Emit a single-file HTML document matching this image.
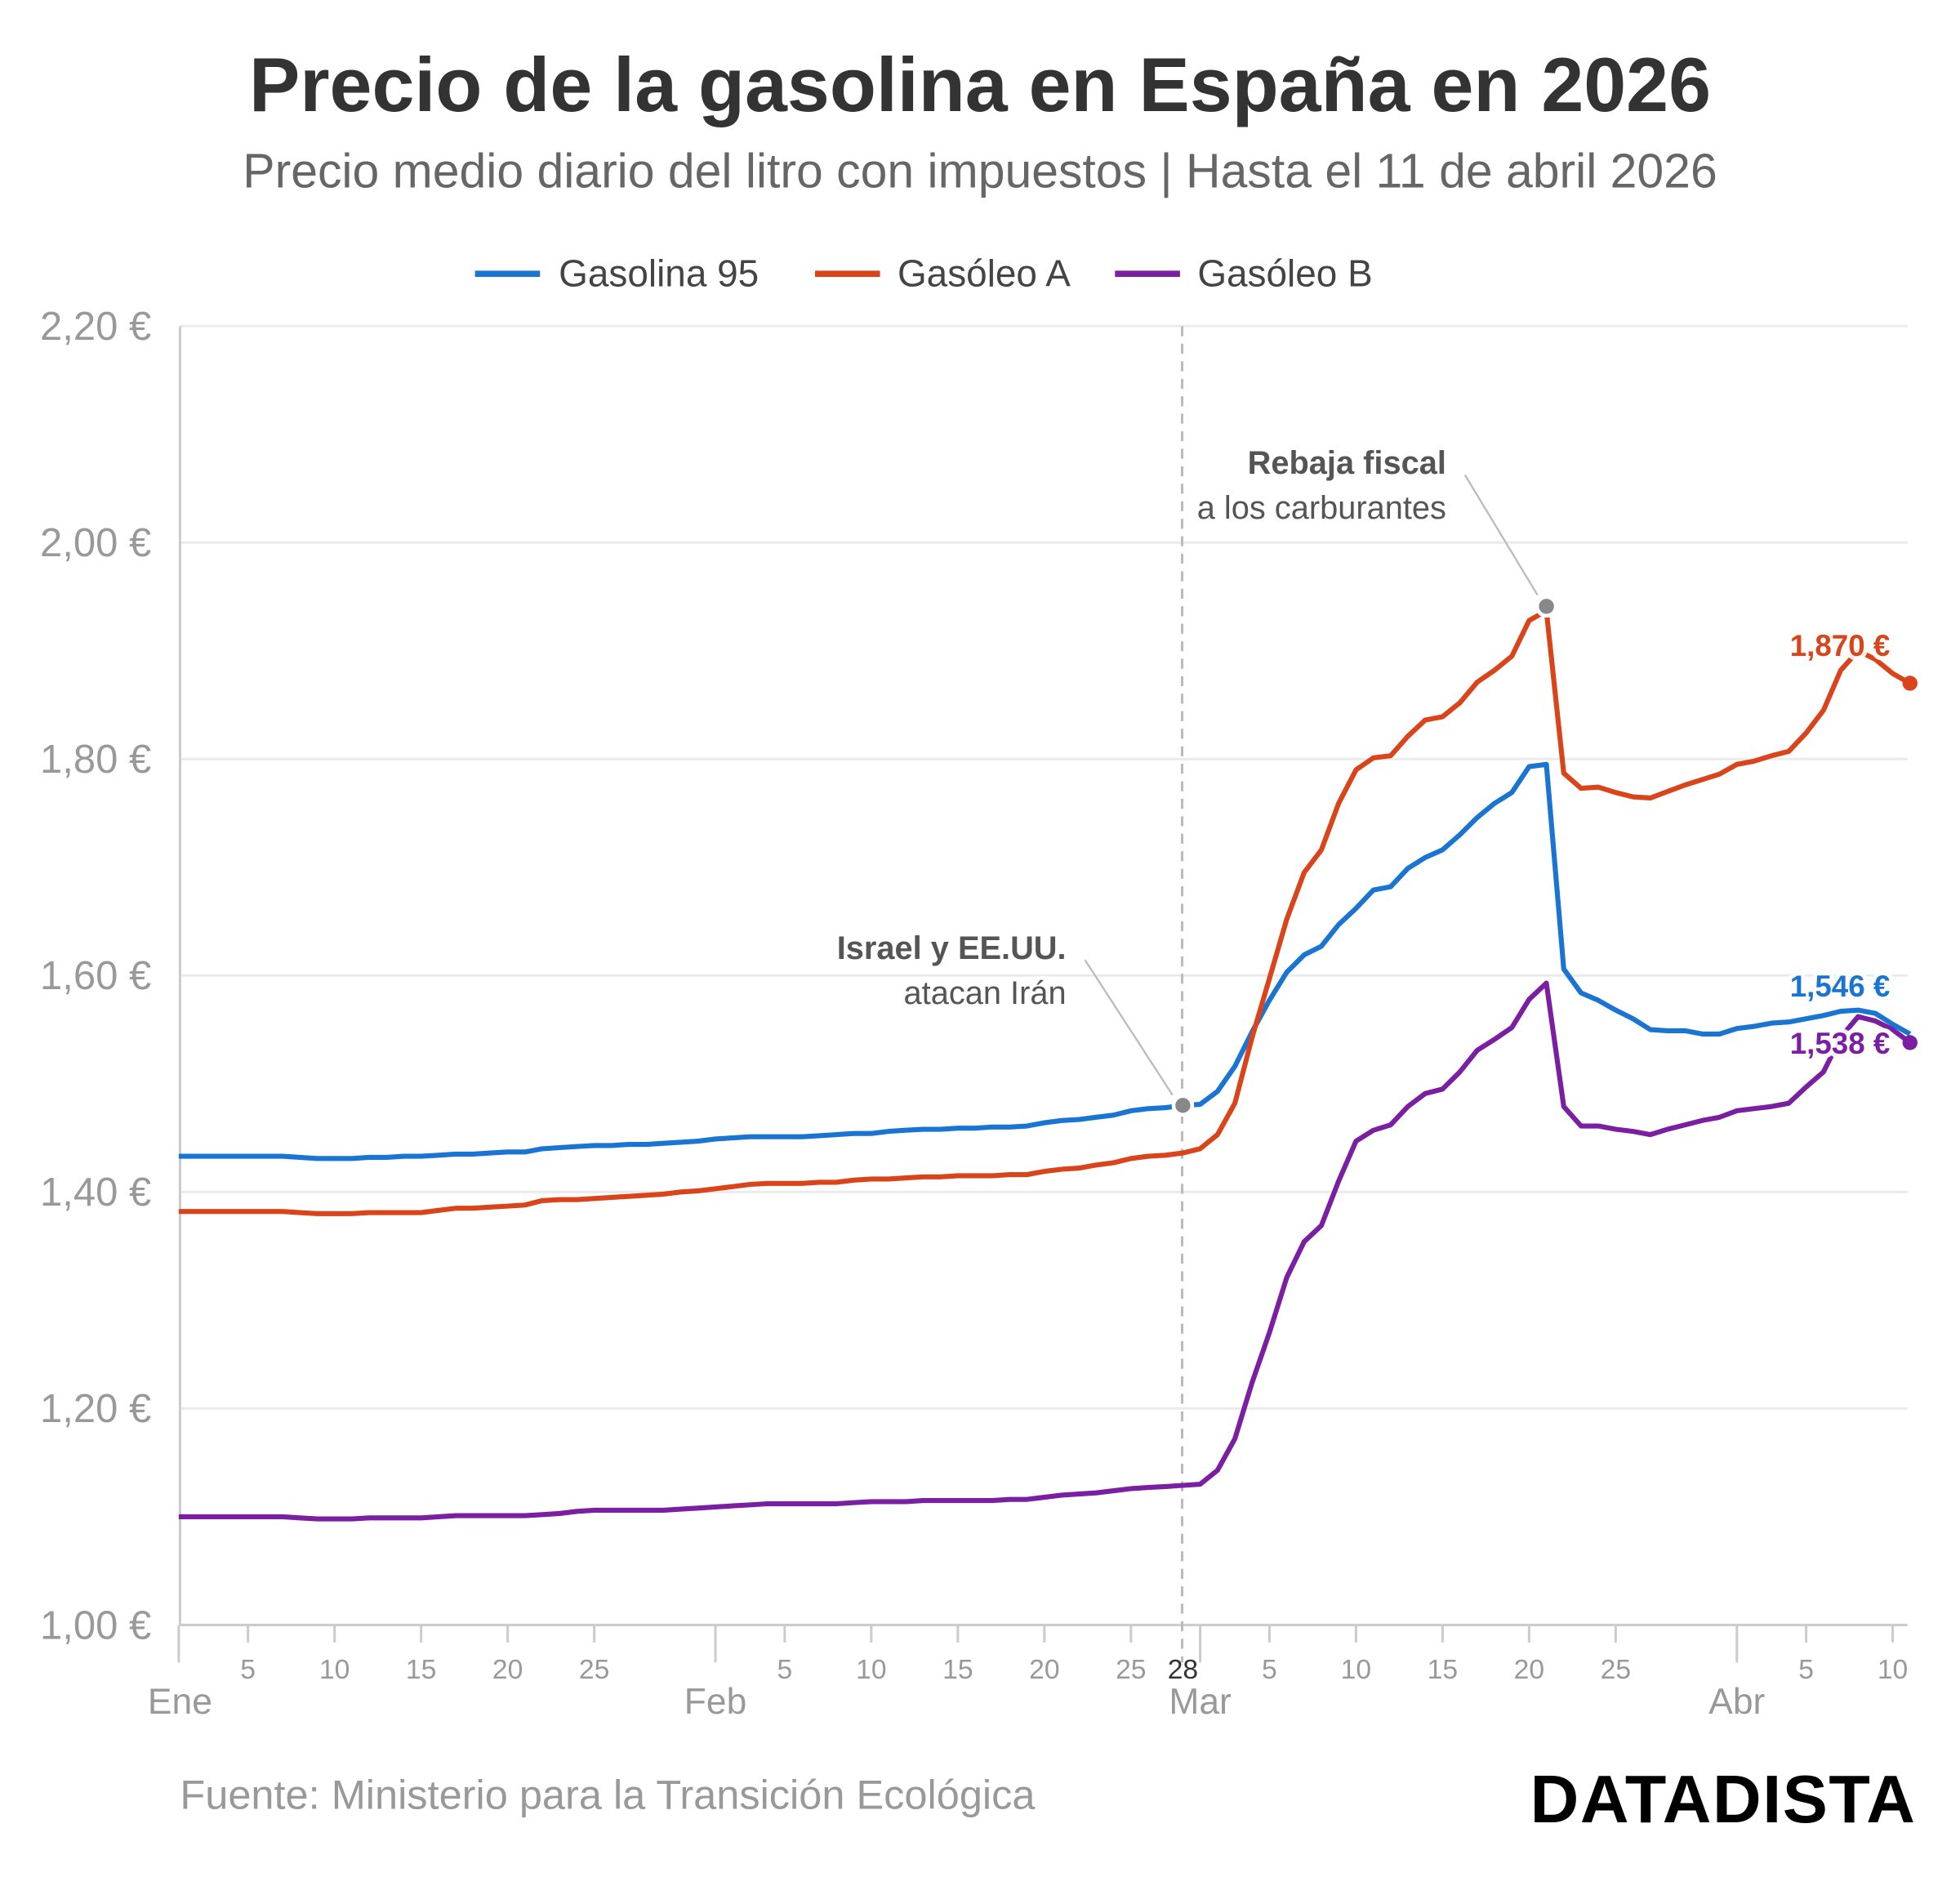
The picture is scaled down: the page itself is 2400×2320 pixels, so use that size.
<!DOCTYPE html>
<html><head><meta charset="utf-8">
<style>
html,body{margin:0;padding:0;background:#fff;}
svg{display:block;font-family:"Liberation Sans",sans-serif;}
</style></head>
<body>
<svg id="chart" width="2400" height="2320" viewBox="0 0 1568 1516" preserveAspectRatio="none" xmlns="http://www.w3.org/2000/svg">
<text x="784" y="89" text-anchor="middle" font-size="61" font-weight="bold" fill="#333">Precio de la gasolina en España en 2026</text>
<text x="784" y="150" text-anchor="middle" font-size="38.5" fill="#666">Precio medio diario del litro con impuestos | Hasta el 11 de abril 2026</text>
<g font-size="30" fill="#444">
 <g><line x1="380" y1="219" x2="432" y2="219" stroke="#1a75d2" stroke-width="5"/><text x="447" y="229">Gasolina 95</text></g>
 <g><line x1="652" y1="219" x2="704" y2="219" stroke="#d9441a" stroke-width="5"/><text x="718" y="229">Gasóleo A</text></g>
 <g><line x1="892" y1="219" x2="944" y2="219" stroke="#7b1fa2" stroke-width="5"/><text x="958" y="229">Gasóleo B</text></g>
</g>
<g id="grid"></g>
<g id="yaxis"></g>
<g id="xaxis"></g>
<line x1="945.7" y1="261" x2="945.7" y2="1330" stroke="#bbb" stroke-width="2" stroke-dasharray="8,6"/>
<g id="series"></g>
<g id="annot">
 <line x1="868" y1="768" x2="938" y2="876" stroke="#bbb" stroke-width="1.5"/>
 <line x1="1172" y1="380" x2="1230" y2="476" stroke="#bbb" stroke-width="1.5"/>
 <text x="853" y="767" text-anchor="end" font-size="26" fill="#555" stroke="#fff" stroke-width="6" paint-order="stroke"><tspan font-weight="bold">Israel y EE.UU.</tspan><tspan x="853" dy="36">atacan Irán</tspan></text>
 <text x="1157" y="379" text-anchor="end" font-size="26" fill="#555" stroke="#fff" stroke-width="6" paint-order="stroke"><tspan font-weight="bold">Rebaja fiscal</tspan><tspan x="1157" dy="36">a los carburantes</tspan></text>
</g>
<text x="144" y="1447" font-size="33" fill="#999">Fuente: Ministerio para la Transición Ecológica</text>
<text x="1533" y="1458" text-anchor="end" font-size="54" font-weight="bold" fill="#000" letter-spacing="1">DATADISTA</text>
</svg>
<script>
const yTicks = [1.0, 1.2, 1.4, 1.6, 1.8, 2.0, 2.2];
const yTickLabels = ["1,00 €","1,20 €","1,40 €","1,60 €","1,80 €","2,00 €","2,20 €"];
const monthNames = ["Ene","Feb","Mar","Abr"];
const monthStarts = [0, 31, 59, 90];
const dayTickLabels = [5,10,15,20,25];
const gasolina95 = [1.433,1.433,1.433,1.433,1.433,1.433,1.433,1.432,1.431,1.431,1.431,1.432,1.432,1.433,1.433,1.434,1.435,1.435,1.436,1.437,1.437,1.440,1.441,1.442,1.443,1.443,1.444,1.444,1.445,1.446,1.447,
1.449,1.450,1.451,1.451,1.451,1.451,1.452,1.453,1.454,1.454,1.456,1.457,1.458,1.458,1.459,1.459,1.460,1.460,1.461,1.464,1.466,1.467,1.469,1.471,1.475,1.477,1.478,1.480,
1.481,1.493,1.516,1.548,1.577,1.603,1.619,1.627,1.647,1.662,1.679,1.682,1.699,1.709,1.716,1.730,1.746,1.759,1.769,1.793,1.795,1.606,1.584,1.577,1.568,1.560,1.550,1.549,1.549,1.546,1.546,
1.551,1.553,1.556,1.557,1.560,1.563,1.567,1.568,1.565,1.555,1.546];
const gasoleoA = [1.382,1.382,1.382,1.382,1.382,1.382,1.382,1.381,1.380,1.380,1.380,1.381,1.381,1.381,1.381,1.383,1.385,1.385,1.386,1.387,1.388,1.392,1.393,1.393,1.394,1.395,1.396,1.397,1.398,1.400,1.401,
1.403,1.405,1.407,1.408,1.408,1.408,1.409,1.409,1.411,1.412,1.412,1.413,1.414,1.414,1.415,1.415,1.415,1.416,1.416,1.419,1.421,1.422,1.425,1.427,1.431,1.433,1.434,1.436,
1.440,1.453,1.482,1.543,1.597,1.652,1.695,1.716,1.759,1.790,1.801,1.803,1.821,1.836,1.839,1.852,1.871,1.882,1.895,1.928,1.937,1.787,1.773,1.774,1.769,1.765,1.764,1.770,1.776,1.781,1.786,
1.795,1.798,1.803,1.807,1.824,1.845,1.882,1.900,1.892,1.879,1.870];
const gasoleoB = [1.100,1.100,1.100,1.100,1.100,1.100,1.100,1.099,1.098,1.098,1.098,1.099,1.099,1.099,1.099,1.100,1.101,1.101,1.101,1.101,1.101,1.102,1.103,1.105,1.106,1.106,1.106,1.106,1.106,1.107,1.108,
1.109,1.110,1.111,1.112,1.112,1.112,1.112,1.112,1.113,1.114,1.114,1.114,1.115,1.115,1.115,1.115,1.115,1.116,1.116,1.118,1.120,1.121,1.122,1.124,1.126,1.127,1.128,1.129,
1.130,1.143,1.172,1.224,1.270,1.321,1.354,1.369,1.410,1.447,1.457,1.462,1.479,1.491,1.495,1.511,1.531,1.541,1.552,1.578,1.593,1.479,1.461,1.461,1.458,1.456,1.453,1.458,1.462,1.466,1.469,
1.475,1.477,1.479,1.482,1.497,1.511,1.543,1.562,1.558,1.550,1.538];
const endLabels = ["1,870 €","1,546 €","1,538 €"];
const eventDays = [58, 79];

const NS = "http://www.w3.org/2000/svg";
const X0 = 143, DX = 13.85, Y0 = 1300, YK = 866;
function xs(d){ return X0 + d*DX; }
function ys(v){ return Y0 - (v-1)*YK; }
function mk(tag, attrs, parent){ const e=document.createElementNS(NS,tag); for(const k in attrs) e.setAttribute(k,attrs[k]); parent.appendChild(e); return e; }

const grid=document.getElementById('grid'), ya=document.getElementById('yaxis'), xa=document.getElementById('xaxis');
yTicks.forEach((v,i)=>{
  if(i>0){ const g=mk('line',{x1:144,x2:1526,y1:ys(v),y2:ys(v),stroke:'#ebebeb','stroke-width':2},grid);
    
     }
  const t=mk('text',{x:121,y:ys(v)+11,'text-anchor':'end','font-size':32,fill:'#999'},ya);
  
  
  t.textContent=yTickLabels[i];
});
mk('line',{x1:144,x2:144,y1:261,y2:1300,stroke:'#ccc','stroke-width':2},ya);
mk('line',{x1:144,x2:1526,y1:1300,y2:1300,stroke:'#ccc','stroke-width':2},xa);
const monthLen=[31,28,31,11];
monthStarts.forEach((m,mi)=>{
  mk('line',{x1:xs(m),x2:xs(m),y1:1300,y2:1330,stroke:'#ccc','stroke-width':2},xa);
  const ml=mk('text',{x:xs(m)+(mi===0?1:0),y:1371,'text-anchor':'middle','font-size':29,fill:'#999'},xa);
  
  
  ml.textContent=monthNames[mi];
  const dl = mi===3 ? [5,10] : dayTickLabels;
  dl.forEach(d=>{
    if(d>monthLen[mi]) return;
    mk('line',{x1:xs(m+d-1),x2:xs(m+d-1),y1:1300,y2:1314,stroke:'#ccc','stroke-width':2},xa);
    const tl=mk('text',{x:xs(m+d-1),y:1343,'text-anchor':'middle','font-size':22,fill:'#999'},xa);
    
    
    tl.textContent=d;
  });
});
const t28=mk('text',{x:xs(58),y:1343,'text-anchor':'middle','font-size':22,fill:'#333'},xa);


t28.textContent='28';

const ser=document.getElementById('series');
const defs=[[gasolina95,'#1a75d2','line-gasolina-95'],[gasoleoA,'#d9441a','line-gasoleo-a'],[gasoleoB,'#7b1fa2','line-gasoleo-b']];
defs.forEach(([arr,c,n])=>{
  const p=mk('polyline',{points:arr.map((v,i)=>xs(i).toFixed(1)+','+ys(v).toFixed(1)).join(' '),fill:'none',stroke:c,'stroke-width':4,'stroke-linejoin':'round'},ser);
  
  
});
const last=gasolina95.length-1;
const labY=[ys(gasoleoA[last])-22, ys(gasolina95[last])-30, ys(gasoleoB[last])+9];
[[gasoleoA,'#d9441a'],[gasolina95,'#1a75d2'],[gasoleoB,'#7b1fa2']].forEach(([arr,c],i)=>{
  const t=mk('text',{x:1512,y:labY[i],'text-anchor':'end','font-size':24,'font-weight':'bold',fill:c,stroke:'#fff','stroke-width':7,'paint-order':'stroke','stroke-opacity':0.9},ser);
  
  
  t.textContent=endLabels[i];
});
[[gasoleoA,'#d9441a'],[gasoleoB,'#7b1fa2']].forEach(([arr,c])=>{
  const d=mk('circle',{cx:xs(last),cy:ys(arr[last]),r:6,fill:c},ser);
  
  
});
[[eventDays[0],gasolina95],[eventDays[1],gasoleoA]].forEach(([d,arr])=>{
  const v = d===eventDays[1] ? arr[d]+0.004 : arr[d];
  const c=mk('circle',{cx:xs(d),cy:ys(v),r:7.5,fill:'#888',stroke:'#fff','stroke-width':3},ser);
  
  
});
</script>
</body></html>
